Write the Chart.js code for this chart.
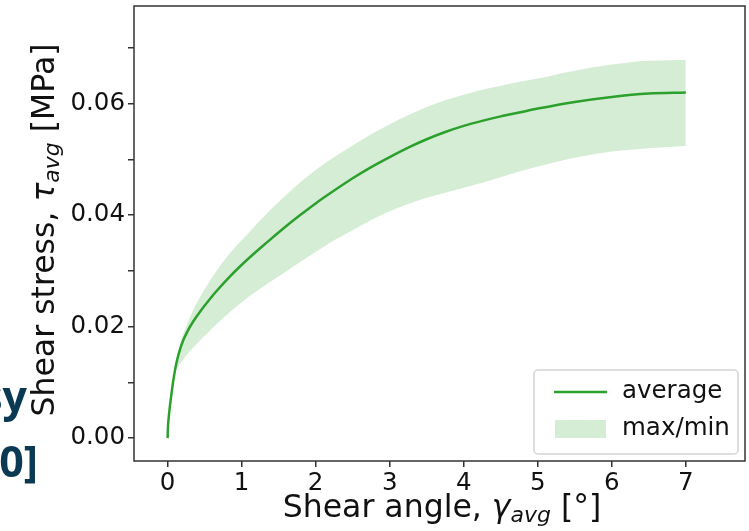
<!DOCTYPE html>
<html>
<head>
<meta charset="utf-8">
<script src="https://cdn.jsdelivr.net/npm/chart.js@4.4.1/dist/chart.umd.min.js"></script>
<style>
  html, body { margin: 0; padding: 0; background: #fff; }
  #wrap { position: relative; width: 749px; height: 531px; }
</style>
</head>
<body>
<div id="wrap"><canvas id="shearChart" width="749" height="531" style="width:749px;height:531px"></canvas></div>
<script>
// shear angle (deg) and stress (MPa)
const angle     = [0, 0.005, 0.01, 0.02, 0.035, 0.05, 0.07, 0.1, 0.13, 0.17, 0.21, 0.27, 0.35, 0.45, 0.55, 0.65, 0.85, 1.1, 1.35, 1.6, 1.8, 2.0, 2.25, 2.5, 2.75, 3.0, 3.25, 3.5, 3.75, 4.0, 4.25, 4.5, 4.75, 5.0, 5.5, 6.0, 6.5, 7.0];
const avgStress = [0, 0.0020, 0.0030, 0.0044, 0.0062, 0.0077, 0.0097, 0.0122, 0.0141, 0.0160, 0.0175, 0.0192, 0.0210, 0.0229, 0.0246, 0.0262, 0.0291, 0.0323, 0.0352, 0.0380, 0.0401, 0.0421, 0.0444, 0.0466, 0.0486, 0.0504, 0.0521, 0.0536, 0.0549, 0.0560, 0.0569, 0.0577, 0.0584, 0.0591, 0.0603, 0.0612, 0.0618, 0.0620];
const maxStress = [0, 0.0020, 0.0030, 0.0044, 0.0063, 0.0078, 0.0100, 0.0130, 0.0149, 0.0170, 0.0186, 0.0207, 0.0231, 0.0256, 0.0278, 0.0298, 0.0333, 0.0369, 0.0404, 0.0436, 0.0460, 0.0481, 0.0504, 0.0525, 0.0545, 0.0563, 0.0579, 0.0594, 0.0606, 0.0616, 0.0625, 0.0632, 0.0639, 0.0645, 0.0659, 0.0670, 0.0677, 0.0678];
const minStress = [0, 0.0020, 0.0030, 0.0044, 0.0061, 0.0076, 0.0095, 0.0114, 0.0125, 0.0134, 0.0141, 0.0151, 0.0163, 0.0177, 0.0190, 0.0203, 0.0227, 0.0254, 0.0277, 0.0299, 0.0317, 0.0334, 0.0355, 0.0373, 0.0391, 0.0407, 0.0420, 0.0431, 0.0440, 0.0449, 0.0458, 0.0468, 0.0478, 0.0487, 0.0503, 0.0514, 0.0520, 0.0524];

const xTicks = [0, 1, 2, 3, 4, 5, 6, 7];
const yTicks = [0, 0.01, 0.02, 0.03, 0.04, 0.05, 0.06, 0.07];
const legendLabels = ['average', 'max/min'];

const GREEN = '#2ca02c';
const BAND = 'rgba(44, 160, 44, 0.2)';
const FONT = '"DejaVu Sans", sans-serif';

const pts = (ys) => angle.map((x, i) => ({ x, y: ys[i] }));

// draw a run of text pieces (normal / italic / subscript) centred on 0,0
function drawRich(ctx, parts) {
    let total = 0;
    parts.forEach(p => { ctx.font = p.f; p.w = ctx.measureText(p.t).width; total += p.w; });
    let x = -total / 2;
    parts.forEach(p => {
        ctx.font = p.f;
        ctx.fillText(p.t, x, p.dy || 0);
        x += p.w;
    });
}

const decorPlugin = {
    id: 'decor',
    afterDatasetsDraw(chart) {
        const { ctx, chartArea: a } = chart;
        ctx.save();
        ctx.strokeStyle = '#333';
        ctx.lineWidth = 1.5;
        ctx.strokeRect(a.left, a.top, a.right - a.left, a.bottom - a.top);
        ctx.restore();
    },
    afterDraw(chart) {
        const { ctx } = chart;
        ctx.save();
        ctx.fillStyle = '#111';
        ctx.textAlign = 'left';
        ctx.textBaseline = 'alphabetic';

        // x axis title
        ctx.save();
        ctx.translate(442, 517);
        drawRich(ctx, [
            { t: 'Shear angle, ', f: `31.5px ${FONT}` },
            { t: 'γ', f: `italic 31.5px ${FONT}` },
            { t: 'avg', f: `italic 22px ${FONT}`, dy: 5 },
            { t: ' [°]', f: `31.5px ${FONT}` }
        ]);
        ctx.restore();

        // y axis title
        ctx.save();
        ctx.translate(54, 230);
        ctx.rotate(-Math.PI / 2);
        drawRich(ctx, [
            { t: 'Shear stress, ', f: `31.5px ${FONT}` },
            { t: 'τ', f: `italic 31.5px ${FONT}` },
            { t: 'avg', f: `italic 22px ${FONT}`, dy: 5 },
            { t: ' [MPa]', f: `31.5px ${FONT}` }
        ]);
        ctx.restore();

        // legend box
        ctx.beginPath();
        ctx.roundRect(534, 370, 204, 84, 4);
        ctx.fillStyle = 'rgba(255,255,255,0.8)';
        ctx.fill();
        ctx.strokeStyle = '#d4d4d4';
        ctx.lineWidth = 1.5;
        ctx.stroke();

        ctx.strokeStyle = GREEN;
        ctx.lineWidth = 2.5;
        ctx.beginPath();
        ctx.moveTo(554, 392);
        ctx.lineTo(607, 392);
        ctx.stroke();
        ctx.fillStyle = BAND;
        ctx.fillRect(555, 420, 51, 18);

        ctx.fillStyle = '#111';
        ctx.font = `24.5px ${FONT}`;
        ctx.textBaseline = 'middle';
        ctx.fillText(legendLabels[0], 622, 392);
        ctx.fillText(legendLabels[1], 622, 429);

        // bits of slide text cut off at the left edge
        ctx.fillStyle = '#0b3954';
        ctx.font = 'bold 43px "Open Sans", sans-serif';
        ctx.textAlign = 'right';
        ctx.textBaseline = 'alphabetic';
        ctx.fillText('sy', 27, 412);
        ctx.fillText('0]', 38, 477);
        ctx.restore();
    }
};

const axisGrid = { drawOnChartArea: false, drawTicks: true, tickLength: 6, color: '#333', lineWidth: 1.5 };

const noPad = (s) => { s.paddingTop = 0; s.paddingBottom = 0; s.paddingLeft = 0; s.paddingRight = 0; };

new Chart(document.getElementById('shearChart'), {
    type: 'line',
    plugins: [decorPlugin],
    data: {
        datasets: [
            {
                label: 'average',
                data: pts(avgStress),
                borderColor: GREEN,
                borderWidth: 2.5,
                pointRadius: 0,
                fill: false,
                cubicInterpolationMode: 'monotone',
                order: 0
            },
            {
                label: 'max',
                data: pts(maxStress),
                borderWidth: 0,
                borderColor: 'rgba(0,0,0,0)',
                backgroundColor: BAND,
                pointRadius: 0,
                fill: '+1',
                cubicInterpolationMode: 'monotone',
                order: 1
            },
            {
                label: 'min',
                data: pts(minStress),
                borderWidth: 0,
                borderColor: 'rgba(0,0,0,0)',
                pointRadius: 0,
                fill: false,
                cubicInterpolationMode: 'monotone',
                order: 2
            }
        ]
    },
    options: {
        responsive: false,
        animation: false,
        events: [],
        layout: { padding: { top: 6, right: 4, left: 0, bottom: 0 } },
        plugins: {
            legend: { display: false },
            tooltip: { enabled: false }
        },
        scales: {
            x: {
                type: 'linear',
                min: -0.454,
                max: 7.8,
                afterBuildTicks: (s) => { s.ticks = xTicks.map(v => ({ value: v })); },
                afterFit: (s) => { s.height = 70; noPad(s); },
                grid: axisGrid,
                border: { display: false },
                ticks: {
                    autoSkip: false,
                    maxRotation: 0,
                    color: '#111',
                    padding: 2,
                    font: { family: FONT, size: 24.5 },
                    callback: (v) => String(v)
                }
            },
            y: {
                type: 'linear',
                min: -0.0041,
                max: 0.0775,
                afterBuildTicks: (s) => { s.ticks = yTicks.map(v => ({ value: v })); },
                afterFit: (s) => { s.width = 134; noPad(s); },
                grid: axisGrid,
                border: { display: false },
                ticks: {
                    autoSkip: false,
                    color: '#111',
                    padding: 3,
                    font: { family: FONT, size: 24.5 },
                    callback: (v) => (Math.round(v * 100) % 2 === 0 ? v.toFixed(2) : '')
                }
            }
        }
    }
});
</script>
</body>
</html>
